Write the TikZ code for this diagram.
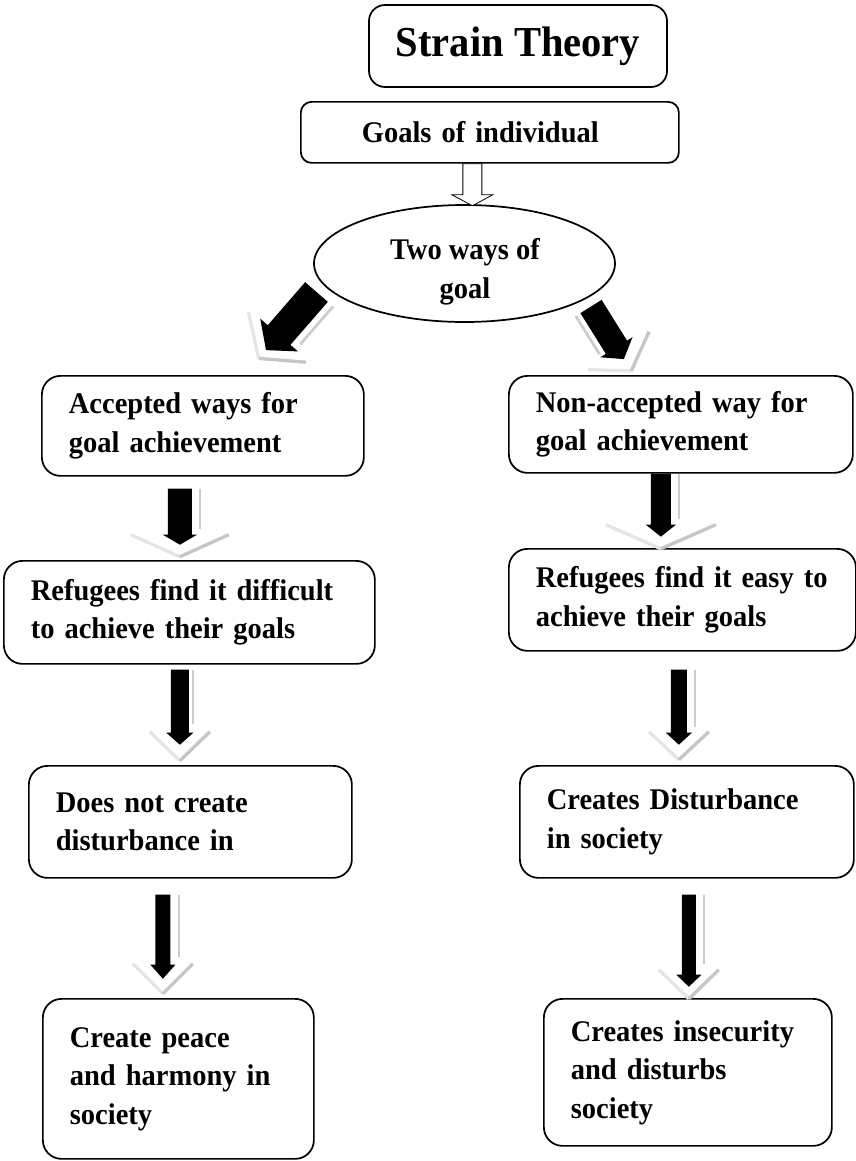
\documentclass[tikz,border=0pt]{standalone}
\usepackage{fontspec}
\setmainfont{Liberation Serif}[FakeStretch=0.95]
\usetikzlibrary{shapes.geometric,calc}

\begin{document}
\begin{tikzpicture}[x=0.75pt, y=-0.75pt,
  every node/.style={font=\fontsize{22.5}{28.9}\selectfont\bfseries},
  box/.style={draw, line width=1.3pt, rounded corners=14pt, anchor=north west,
    align=left, inner xsep=20.25pt, inner ysep=0pt},
  arr len/.store in=\arrlen, arr w/.store in=\arrw,
  arr hl/.store in=\arrhl, arr hw/.store in=\arrhw,
  sh off/.store in=\shoff, sh len/.store in=\shlen,
  ch top/.store in=\chtop, ch tip/.store in=\chtip, ch half/.store in=\chhalf,
  pics/blockarr/.style={code={
    \path[pic actions] (0,-\arrw) -- (\arrlen-\arrhl,-\arrw) -- (\arrlen-\arrhl,-\arrhw)
      -- (\arrlen,0) -- (\arrlen-\arrhl,\arrhw) -- (\arrlen-\arrhl,\arrw) -- (0,\arrw) -- cycle;
  }},
  pics/shadearr/.style={code={
    \draw[gray!40, line width=2pt] (0,\shoff) -- (\shlen,\shoff);
    \draw[gray!20, line width=2.5pt] (\chtop,\chhalf) -- (\chtip,0);
    \draw[gray!45, line width=2.5pt] (\chtip,0) -- (\chtop,-\chhalf);
    \fill[black] (0,-\arrw) -- (\arrlen-\arrhl,-\arrw) -- (\arrlen-\arrhl,-\arrhw)
      -- (\arrlen,0) -- (\arrlen-\arrhl,\arrhw) -- (\arrlen-\arrhl,\arrw) -- (0,\arrw) -- cycle;
  }}
]
\useasboundingbox (0,0) rectangle (856,1161);

\node[draw, line width=1.3pt, rounded corners=12pt, minimum width=223.5pt, minimum height=61.5pt,
  font=\fontsize{32}{38}\selectfont\bfseries] (title) at (518,46) {Strain Theory};
\node[box, rounded corners=8pt, text width=192pt, inner xsep=45.75pt, minimum height=45.75pt]
  (goals) at (300,101) {Goals of individual};
\node[draw, ellipse, line width=1.3pt, minimum width=225.75pt, minimum height=87.75pt] (ways) at (464.5,263.5) {};
\node[align=center] (waystxt) at (465,272) {Two ways of\\goal};

% left branch
\node[box, text width=201pt, minimum height=75pt] (acc) at (41,375) {Accepted ways for\\goal achievement};
\node[box, text width=237.75pt, minimum height=77.25pt] (dif) at (3,560) {Refugees find it difficult\\to achieve their goals};
\node[box, text width=201.75pt, minimum height=84pt] (dnc) at (28,765) {Does not create\\disturbance in};
\node[box, text width=162.75pt, minimum height=120pt] (peace) at (42,998) {Create peace\\and harmony in\\society};

% right branch
\node[box, text width=217.5pt, minimum height=72.75pt] (non) at (508,375) {Non-accepted way for\\goal achievement};
\node[box, text width=219.75pt, minimum height=76.5pt] (eas) at (508,548) {Refugees find it easy to\\achieve their goals};
\node[box, text width=210pt, minimum height=84pt] (cd) at (519,765) {Creates Disturbance\\in society};
\node[box, text width=175.5pt, minimum height=110.25pt] (insec) at (543,998) {Creates insecurity\\and disturbs\\society};

% arrows
\pic[draw, fill=white, line width=0.6pt, rotate=-90, arr len=42, arr w=9.5, arr hl=11, arr hw=20.5]
  at ($(goals.south)+(-17.5,0)$) {blockarr};
\pic[rotate=229, arr len=77, arr w=15, arr hl=20, arr hw=25,
  sh off=-22, sh len=50, ch top=60, ch tip=88, ch half=38] at ($(ways.center)+(-148,28.5)$) {shadearr};
\pic[rotate=-58, arr len=62, arr w=12.5, arr hl=14, arr hw=19,
  sh off=18, sh len=45, ch top=52, ch tip=76, ch half=36] at ($(ways.center)+(126.5,43)$) {shadearr};

\pic[rotate=-90, arr len=56, arr w=12, arr hl=10, arr hw=17,
  sh off=-20, sh len=40, ch top=46, ch tip=68, ch half=49] at ($(acc.south)+(-23,12)$) {shadearr};
\pic[rotate=-90, arr len=75, arr w=9, arr hl=12, arr hw=13.5,
  sh off=-13, sh len=54, ch top=62, ch tip=91, ch half=30] at ($(dif.south)+(-9.5,5)$) {shadearr};
\pic[rotate=-90, arr len=84, arr w=7.5, arr hl=14, arr hw=12.5,
  sh off=-16, sh len=62, ch top=69, ch tip=99, ch half=30] at ($(dnc.south)+(-27.5,16)$) {shadearr};

\pic[rotate=-90, arr len=63, arr w=10, arr hl=12, arr hw=15,
  sh off=-18, sh len=45, ch top=51, ch tip=75, ch half=55] at ($(non.south)+(-20,0)$) {shadearr};
\pic[rotate=-90, arr len=75, arr w=8, arr hl=12, arr hw=13,
  sh off=-16, sh len=57, ch top=62, ch tip=90, ch half=30] at ($(eas.south)+(-3.5,18)$) {shadearr};
\pic[rotate=-90, arr len=92, arr w=7, arr hl=12, arr hw=12.5,
  sh off=-15, sh len=69, ch top=75, ch tip=104, ch half=30] at ($(cd.south)+(2,16)$) {shadearr};
\end{tikzpicture}
\end{document}
